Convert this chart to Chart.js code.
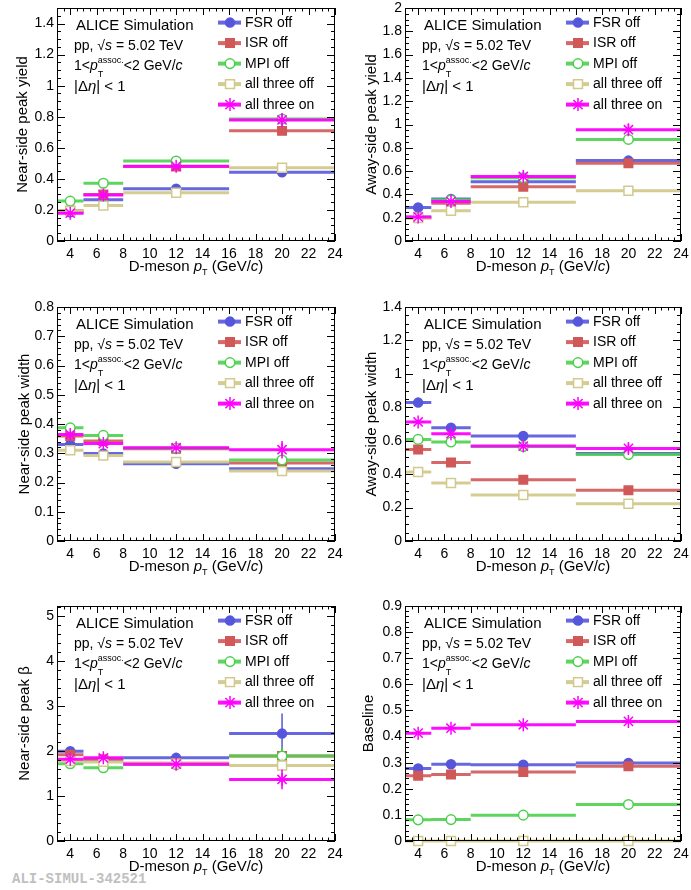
<!DOCTYPE html>
<html>
<head>
<meta charset="utf-8">
<script src="https://cdn.jsdelivr.net/npm/chart.js@4.4.0/dist/chart.umd.min.js"></script>
<style>
  body { margin:0; background:#fff; width:691px; height:890px; position:relative; overflow:hidden;
         font-family:"Liberation Sans", Arial, Helvetica, sans-serif; color:#000; }
  .panel { position:absolute; }
  .note { position:absolute; white-space:nowrap; line-height:1; }
  .st { position:relative; display:inline-block; font-size:9px; }
  .st .sp { position:relative; top:-7px; }
  .st .sb { position:absolute; left:0; top:7px; }
  #tag { position:absolute; left:12px; top:872px; font-family:"Liberation Mono", monospace; font-weight:bold;
         font-size:14px; color:#c0c0c0; line-height:1; }
</style>
</head>
<body>
<div id="tag">ALI-SIMUL-342521</div>
<script>
const seriesNames = ['FSR off', 'ISR off', 'MPI off', 'all three off', 'all three on'];
const binEdges = [3, 5, 8, 16, 24];
const binCenters = [4, 6.5, 12, 20];
const xTicks = [4, 6, 8, 10, 12, 14, 16, 18, 20, 22, 24];

// every block below: rows in seriesNames order, one value per D-meson pT bin
const nsYield = [
  [0.185, 0.266, 0.336, 0.443],
  [0.195, 0.300, 0.480, 0.709],
  [0.257, 0.372, 0.515, 0.785],
  [0.194, 0.228, 0.311, 0.472],
  [0.179, 0.296, 0.481, 0.779]
];
const nsYieldErr = [
  [0.006, 0.008, 0.010, 0.012],
  [0.006, 0.008, 0.010, 0.020],
  [0.006, 0.008, 0.010, 0.020],
  [0.006, 0.008, 0.010, 0.015],
  [0.008, 0.010, 0.012, 0.045]
];
const asYield = [
  [0.287, 0.361, 0.509, 0.690],
  [0.200, 0.324, 0.466, 0.668],
  [0.205, 0.352, 0.543, 0.872],
  [0.198, 0.259, 0.332, 0.432],
  [0.207, 0.338, 0.554, 0.955]
];
const asYieldErr = [
  [0.010, 0.012, 0.015, 0.020],
  [0.010, 0.012, 0.015, 0.020],
  [0.010, 0.012, 0.015, 0.025],
  [0.010, 0.012, 0.015, 0.020],
  [0.012, 0.015, 0.020, 0.050]
];
const nsWidth = [
  [0.330, 0.299, 0.264, 0.247],
  [0.359, 0.342, 0.315, 0.267],
  [0.387, 0.361, 0.317, 0.277],
  [0.310, 0.292, 0.270, 0.239],
  [0.364, 0.333, 0.319, 0.312]
];
const nsWidthErr = [
  [0.005, 0.005, 0.004, 0.006],
  [0.005, 0.005, 0.004, 0.008],
  [0.005, 0.005, 0.004, 0.008],
  [0.005, 0.005, 0.004, 0.006],
  [0.006, 0.006, 0.006, 0.030]
];
const asWidth = [
  [0.828, 0.678, 0.628, 0.523],
  [0.548, 0.469, 0.367, 0.303],
  [0.608, 0.592, 0.565, 0.517],
  [0.413, 0.347, 0.275, 0.223],
  [0.712, 0.642, 0.568, 0.554]
];
const asWidthErr = [
  [0.008, 0.008, 0.008, 0.015],
  [0.008, 0.008, 0.008, 0.010],
  [0.008, 0.008, 0.008, 0.010],
  [0.008, 0.008, 0.008, 0.010],
  [0.010, 0.010, 0.015, 0.030]
];
const nsBeta = [
  [2.00, 1.80, 1.85, 2.39],
  [1.92, 1.82, 1.73, 1.89],
  [1.72, 1.63, 1.70, 1.89],
  [1.78, 1.76, 1.72, 1.68],
  [1.82, 1.85, 1.71, 1.37]
];
const nsBetaErr = [
  [0.05, 0.05, 0.05, 0.45],
  [0.05, 0.05, 0.05, 0.20],
  [0.05, 0.05, 0.05, 0.20],
  [0.05, 0.05, 0.05, 0.15],
  [0.06, 0.06, 0.06, 0.22]
];
const baseline = [
  [0.278, 0.294, 0.292, 0.299],
  [0.250, 0.255, 0.264, 0.286],
  [0.081, 0.082, 0.099, 0.140],
  [0.000, 0.000, 0.000, 0.000],
  [0.413, 0.432, 0.445, 0.458]
];
const baselineErr = [
  [0.003, 0.003, 0.003, 0.004],
  [0.003, 0.003, 0.003, 0.004],
  [0.003, 0.003, 0.003, 0.004],
  [0.008, 0.008, 0.008, 0.008],
  [0.004, 0.004, 0.004, 0.005]
];

const nsYieldTicks = [0, 0.2, 0.4, 0.6, 0.8, 1, 1.2, 1.4];
const asYieldTicks = [0, 0.2, 0.4, 0.6, 0.8, 1, 1.2, 1.4, 1.6, 1.8, 2];
const nsWidthTicks = [0, 0.1, 0.2, 0.3, 0.4, 0.5, 0.6, 0.7, 0.8];
const asWidthTicks = [0, 0.2, 0.4, 0.6, 0.8, 1, 1.2, 1.4];
const nsBetaTicks = [0, 1, 2, 3, 4, 5];
const baselineTicks = [0, 0.1, 0.2, 0.3, 0.4, 0.5, 0.6, 0.7, 0.8, 0.9];

const styles = [
  { line: 'rgba(86,86,220,0.9)',  color: '#5656dc', point: 'circle', filled: true,  r: 4.5 },
  { line: 'rgba(208,88,88,0.9)',  color: '#d05858', point: 'rect',   filled: true,  r: 6 },
  { line: 'rgba(76,208,76,0.9)',  color: '#4cd04c', point: 'circle', filled: false, r: 4.8 },
  { line: 'rgba(210,201,140,0.95)', color: '#d2c98c', point: 'rect', filled: false, r: 6.3 },
  { line: 'rgba(255,0,255,0.95)', color: '#ff00ff', point: 'star',   filled: false, r: 6.5 }
];

const panels = [
  { left: 0,   top: 0,   w: 345, h: 290, padTop: 7,  axisW: 57, tPad: 14,   title: 'Near-side peak yield', vals: nsYield,  errs: nsYieldErr,  yMax: 1.5,  yTicks: nsYieldTicks,  minor: 0.05 },
  { left: 345, top: 0,   w: 346, h: 290, padTop: 7,  axisW: 60, tPad: 17.5, title: 'Away-side peak yield', vals: asYield,  errs: asYieldErr,  yMax: 2,    yTicks: asYieldTicks,  minor: 0.05 },
  { left: 0,   top: 290, w: 345, h: 300, padTop: 17, axisW: 57, tPad: 16,   title: 'Near-side peak width', vals: nsWidth,  errs: nsWidthErr,  yMax: 0.8,  yTicks: nsWidthTicks,  minor: 0.02 },
  { left: 345, top: 290, w: 346, h: 300, padTop: 17, axisW: 60, tPad: 17.5, title: 'Away-side peak width', vals: asWidth,  errs: asWidthErr,  yMax: 1.4,  yTicks: asWidthTicks,  minor: 0.05 },
  { left: 0,   top: 590, w: 345, h: 300, padTop: 16, axisW: 57, tPad: 16,   title: 'Near-side peak \u03b2',  vals: nsBeta,   errs: nsBetaErr,   yMax: 5.23, yTicks: nsBetaTicks,   minor: 0.2 },
  { left: 345, top: 590, w: 346, h: 300, padTop: 16, axisW: 60, tPad: 15,   title: 'Baseline',             vals: baseline, errs: baselineErr, yMax: 0.9,  yTicks: baselineTicks, minor: 0.02 }
];

function binSegments(vals) {
  const pts = [];
  vals.forEach((v, i) => {
    pts.push({ x: binEdges[i], y: v }, { x: binEdges[i + 1], y: v });
    if (i < vals.length - 1) pts.push({ x: binEdges[i + 1], y: null });
  });
  return pts;
}
function errSegments(vals, errs) {
  const pts = [];
  vals.forEach((v, i) => {
    pts.push({ x: binCenters[i], y: v - errs[i] }, { x: binCenters[i], y: v + errs[i] }, { x: binCenters[i], y: null });
  });
  return pts;
}

// ROOT-like frame with inward ticks on all sides, plus the legend
const rootFrame = {
  id: 'rootFrame',
  afterDraw(chart, args, opts) {
    const { ctx, chartArea: a, scales: { x, y } } = chart;
    ctx.save();
    ctx.strokeStyle = '#000';
    ctx.lineWidth = 1;
    ctx.strokeRect(Math.round(a.left) + 0.5, Math.round(a.top) + 0.5, Math.round(a.width) - 1, Math.round(a.height) - 1);
    ctx.beginPath();
    for (let k = 0; 3 + k * 0.5 <= 24.001; k++) {
      const v = 3 + k * 0.5;
      const len = xTicks.includes(v) ? 7 : 3.5;
      const px = Math.round(x.getPixelForValue(v)) + 0.5;
      ctx.moveTo(px, a.bottom); ctx.lineTo(px, a.bottom - len);
      ctx.moveTo(px, a.top); ctx.lineTo(px, a.top + len);
    }
    const yt = opts.yTicks;
    for (let k = 0; k * opts.minor <= y.max + 1e-9; k++) {
      const v = k * opts.minor;
      const major = yt.some(t => Math.abs(t - v) < 1e-6);
      const len = major ? 8 : 4;
      const py = Math.round(y.getPixelForValue(v)) + 0.5;
      ctx.moveTo(a.left, py); ctx.lineTo(a.left + len, py);
      ctx.moveTo(a.right, py); ctx.lineTo(a.right - len, py);
    }
    ctx.stroke();

    // legend
    ctx.font = '14px "Liberation Sans", Arial, sans-serif';
    ctx.textBaseline = 'middle';
    ctx.textAlign = 'left';
    seriesNames.forEach((name, i) => {
      const s = styles[i];
      const ly = a.top + 14.6 + i * 20.5;
      const lx = a.left + 173;
      ctx.strokeStyle = s.line;
      ctx.lineWidth = 4;
      ctx.beginPath(); ctx.moveTo(lx - 12, ly); ctx.lineTo(lx + 11, ly); ctx.stroke();
      ctx.strokeStyle = s.color;
      ctx.fillStyle = s.filled ? s.color : '#fff';
      ctx.lineWidth = 1.5;
      Chart.helpers.drawPoint(ctx, { pointStyle: s.point, radius: s.r, rotation: 0, borderWidth: ctx.lineWidth }, lx, ly);
      ctx.fillStyle = '#000';
      ctx.fillText(name, a.left + 188, ly + 0.5);
    });
    ctx.restore();
  }
};

function note(html, x, baseY, size) {
  const d = document.createElement('div');
  d.className = 'note';
  d.style.fontSize = size + 'px';
  d.style.left = x + 'px';
  d.style.top = (baseY - 0.85 * size) + 'px';
  d.innerHTML = html;
  document.body.appendChild(d);
  return d;
}

panels.forEach(p => {
  const holder = document.createElement('div');
  holder.className = 'panel';
  holder.style.left = p.left + 'px';
  holder.style.top = p.top + 'px';
  const cv = document.createElement('canvas');
  cv.width = p.w; cv.height = p.h;
  cv.style.width = p.w + 'px'; cv.style.height = p.h + 'px';
  holder.appendChild(cv);
  document.body.appendChild(holder);

  const datasets = [];
  seriesNames.forEach((name, i) => {
    const s = styles[i];
    const base = (seriesNames.length - 1 - i) * 3;
    datasets.push({
      label: name, data: binSegments(p.vals[i]), borderColor: s.line, borderWidth: 3,
      pointRadius: 0, spanGaps: false, tension: 0, fill: false, order: base + 2, clip: false
    });
    datasets.push({
      label: name + ' err', data: errSegments(p.vals[i], p.errs[i]), borderColor: s.color, borderWidth: 1.5,
      pointRadius: 0, spanGaps: false, fill: false, order: base + 1, clip: false
    });
    datasets.push({
      label: name + ' pts', data: p.vals[i].map((v, j) => ({ x: binCenters[j], y: v })), showLine: false,
      pointStyle: s.point, pointRadius: s.r, pointBorderColor: s.color,
      pointBackgroundColor: s.filled ? s.color : '#fff', pointBorderWidth: 1.5,
      order: base, clip: false
    });
  });

  const chart = new Chart(cv, {
    type: 'line',
    data: { datasets },
    options: {
      responsive: false,
      animation: false,
      devicePixelRatio: 1,
      layout: { padding: { left: 0, right: 10, top: p.padTop, bottom: 0 } },
      plugins: { legend: { display: false }, tooltip: { enabled: false }, rootFrame: { yTicks: p.yTicks, minor: p.minor } },
      scales: {
        x: {
          type: 'linear', min: 3, max: 24,
          grid: { display: false, drawTicks: false }, border: { display: false },
          afterBuildTicks: sc => { sc.ticks = xTicks.map(v => ({ value: v })); },
          afterFit: sc => { sc.height = 49; sc.paddingLeft = sc.paddingRight = sc.paddingTop = sc.paddingBottom = 0; },
          ticks: { padding: 5, color: '#000', maxRotation: 0, autoSkip: false,
                   font: { family: '"Liberation Sans", Arial, sans-serif', size: 14 } }
        },
        y: {
          type: 'linear', min: 0, max: p.yMax,
          grid: { display: false, drawTicks: false }, border: { display: false },
          afterBuildTicks: sc => { sc.ticks = p.yTicks.map(v => ({ value: v })); },
          afterFit: sc => { sc.width = p.axisW; sc.paddingLeft = sc.paddingRight = sc.paddingTop = sc.paddingBottom = 0; },
          ticks: { padding: 3, color: '#000', autoSkip: false, callback: v => String(+(+v).toFixed(2)),
                   font: { family: '"Liberation Sans", Arial, sans-serif', size: 14 } },
          title: { display: true, text: p.title, color: '#000', padding: { top: p.tPad, bottom: 0 },
                   font: { family: '"Liberation Sans", Arial, sans-serif', size: 15 } }
        }
      }
    },
    plugins: [rootFrame]
  });

  const a = chart.chartArea;
  const L = p.left + a.left, T = p.top + a.top;
  note('ALICE Simulation', L + 19, T + 21.6, 15);
  note('pp, \u221a<i>s</i> = 5.02 TeV', L + 17, T + 42.3, 14);
  note('1&lt;<i>p</i><span class="st"><span class="sp">assoc.</span><span class="sb">T</span></span>&lt;2 GeV/<i>c</i>', L + 17, T + 61.6, 14);
  note('|\u0394<i>\u03b7</i>| &lt; 1', L + 17, T + 82.6, 15);
  const xt = note('D-meson <i>p</i><sub style="font-size:9px;vertical-align:-4px">T</sub> (GeV/<i>c</i>)', L, T + a.height + 30, 15);
  xt.style.width = a.width + 'px';
  xt.style.textAlign = 'center';
});
</script>
</body>
</html>
